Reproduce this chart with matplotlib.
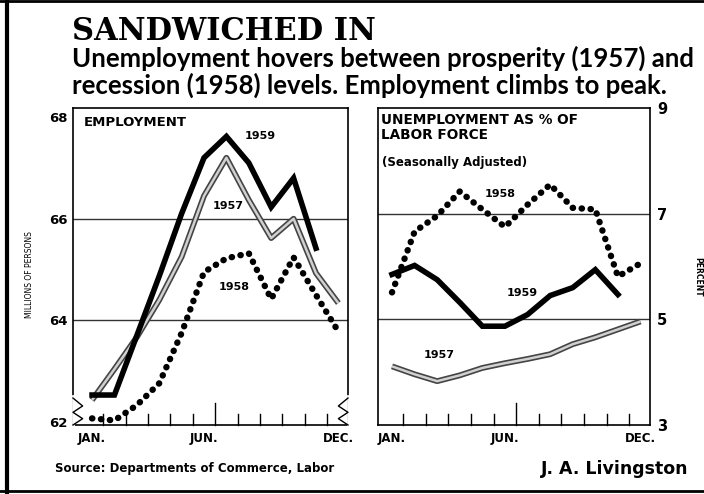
import matplotlib
matplotlib.use("Agg")
import matplotlib.pyplot as plt
from matplotlib.lines import Line2D

# Dữ liệu
month_pos = list(range(12))
month_labels = ["JAN.", "JUN.", "DEC."]
label_pos = [0, 5, 11]

emp_1957 = [62.43, 63.04, 63.67, 64.40, 65.25, 66.45, 67.20, 66.37, 65.62, 66.00, 64.93, 64.34]
emp_1958 = [62.07, 62.03, 62.33, 62.76, 63.75, 64.95, 65.22, 65.32, 64.42, 65.24, 64.50, 63.78]
emp_1959 = [62.53, 62.53, 63.70, 64.87, 66.10, 67.20, 67.62, 67.10, 66.23, 66.80, 65.42]

unemp_1957 = [4.11, 3.96, 3.83, 3.94, 4.08, 4.17, 4.25, 4.34, 4.53, 4.66, 4.81, 4.96]
unemp_1958 = [5.51, 6.66, 6.96, 7.42, 7.08, 6.75, 7.17, 7.55, 7.11, 7.08, 5.81, 6.06]
unemp_1959 = [5.85, 6.02, 5.75, 5.32, 4.87, 4.87, 5.09, 5.45, 5.60, 5.94, 5.47]

emp_ticks = [62, 64, 66, 68]
unemp_ticks = [3, 5, 7, 9]

W, H = 704, 494
fig = plt.figure(figsize=(W / 100, H / 100), dpi=100)
fig.patch.set_facecolor("white")

def box(x0, y0, x1, y1):
    # toạ độ pixel (gốc trên-trái) -> toạ độ figure
    return [x0 / W, 1 - y1 / H, (x1 - x0) / W, (y1 - y0) / H]

ax1 = fig.add_axes(box(73, 108, 348, 425))
ax2 = fig.add_axes(box(378, 108, 650, 425))

def draw_57(ax, x, y):
    ax.plot(x, y, color="#444444", lw=4.2, solid_capstyle="butt", zorder=3)
    ax.plot(x, y, color="#d0d0d0", lw=1.8, solid_capstyle="butt", zorder=3)

def draw_58(ax, x, y):
    ax.plot(x, y, color="black", lw=4.6, linestyle=(0, (0.05, 1.35)),
            dash_capstyle="round", zorder=4)

def draw_59(ax, x, y):
    ax.plot(x, y, color="black", lw=4.0, solid_joinstyle="miter", zorder=5)

# Employment
draw_57(ax1, month_pos, emp_1957)
draw_58(ax1, month_pos, emp_1958)
draw_59(ax1, month_pos[:len(emp_1959)], emp_1959)
ax1.set_xlim(-0.85, 11.43)
ax1.set_ylim(61.94, 68.18)
for v in [64, 66]:
    ax1.axhline(v, color="#333333", lw=1.0, zorder=1)

# Unemployment
draw_57(ax2, month_pos, unemp_1957)
draw_58(ax2, month_pos, unemp_1958)
draw_59(ax2, month_pos[:len(unemp_1959)], unemp_1959)
ax2.set_xlim(-0.62, 11.42)
ax2.set_ylim(3.0, 9.0)
for v in [5, 7]:
    ax2.axhline(v, color="#333333", lw=1.0, zorder=1)

bold = dict(fontweight="bold", fontfamily="DejaVu Sans")

for ax in (ax1, ax2):
    for s in ax.spines.values():
        s.set_linewidth(1.2)
    ax.set_xticks(label_pos)
    ax.set_xticklabels(month_labels, fontsize=8.5, **bold)
    ax.tick_params(axis="x", length=0, pad=5)
    # vạch nhỏ giữa các tháng, vạch giữa năm cao hơn
    trans = ax.get_xaxis_transform()
    for i in range(11):
        h = 0.07 if i == 5 else 0.035
        ax.plot([i + 0.5, i + 0.5], [0, h], color="black", lw=1.0,
                transform=trans, clip_on=False, zorder=2)

ax1.set_yticks(emp_ticks)
ax1.set_yticklabels([str(t) for t in emp_ticks], fontsize=9.5, **bold)
ax1.tick_params(axis="y", length=0, pad=4)

ax2.yaxis.tick_right()
ax2.set_yticks(unemp_ticks)
ax2.set_yticklabels([str(t) for t in unemp_ticks], fontsize=10.5, **bold)
ax2.tick_params(axis="y", length=0, pad=5)

# dấu ngắt trục
for xs in ([0.0, 0.035, 0.0, 0.035, 0.0], [1.0, 0.965, 1.0, 0.965, 1.0]):
    ax1.plot(xs, [0.085, 0.06, 0.04, 0.02, 0.0], color="black", lw=1.0,
             transform=ax1.transAxes, clip_on=False, zorder=6)
    ax1.plot([xs[0], xs[0]], [0.0, 0.09], color="white", lw=2.0,
             transform=ax1.transAxes, clip_on=False, zorder=5)

# nhãn năm
ax1.text(7.5, 67.62, "1959", fontsize=8, **bold, ha="center", va="center")
ax1.text(6.1, 66.25, "1957", fontsize=8, **bold, ha="center", va="center")
ax1.text(6.35, 64.65, "1958", fontsize=8, **bold, ha="center", va="center")
ax2.text(4.8, 7.38, "1958", fontsize=8, **bold, ha="center", va="center")
ax2.text(5.75, 5.5, "1959", fontsize=8, **bold, ha="center", va="center")
ax2.text(2.1, 4.32, "1957", fontsize=8, **bold, ha="center", va="center")

ax1.text(0.04, 0.975, "EMPLOYMENT", transform=ax1.transAxes, fontsize=9.5,
         **bold, ha="left", va="top")
ax2.text(0.01, 0.985, "UNEMPLOYMENT AS % OF\nLABOR FORCE", transform=ax2.transAxes,
         fontsize=9.8, **bold, ha="left", va="top", linespacing=1.15)
ax2.text(0.015, 0.85, "(Seasonally Adjusted)", transform=ax2.transAxes,
         fontsize=8.5, **bold, ha="left", va="top")

fig.text(30 / W, 1 - 275 / H, "MILLIONS OF PERSONS", rotation=90, fontsize=5.5,
         fontfamily="DejaVu Sans", ha="center", va="center")
fig.text(698 / W, 1 - 277 / H, "PERCENT", rotation=270, fontsize=5.5,
         fontfamily="DejaVu Sans", fontweight="bold", ha="center", va="center")

# tiêu đề
fig.text(72 / W, 1 - 40 / H, "SANDWICHED IN", fontsize=22, fontweight="bold",
         fontfamily="DejaVu Serif", ha="left", va="baseline")
sub = dict(fontsize=18.5, fontfamily="Lato", fontweight="bold", ha="left", va="baseline")
fig.text(72 / W, 1 - 67 / H, "Unemployment hovers between prosperity (1957) and", **sub)
fig.text(72 / W, 1 - 94 / H, "recession (1958) levels. Employment climbs to peak.", **sub)

fig.text(55 / W, 1 - 472 / H, "Source: Departments of Commerce, Labor", fontsize=8.5,
         fontfamily="DejaVu Sans", fontweight="bold", ha="left", va="baseline")
fig.text(688 / W, 1 - 474 / H, "J. A. Livingston", fontsize=12.5,
         fontfamily="DejaVu Sans", fontweight="bold", ha="right", va="baseline")

# khung viền
fig.add_artist(Line2D([7 / W, 7 / W], [0, 1], color="black", lw=3.0))
fig.add_artist(Line2D([0, 1], [1 - 1 / H, 1 - 1 / H], color="black", lw=2.0))
fig.add_artist(Line2D([0, 1], [1 - 491 / H, 1 - 491 / H], color="black", lw=2.0))

plt.savefig("out.png", dpi=100)
